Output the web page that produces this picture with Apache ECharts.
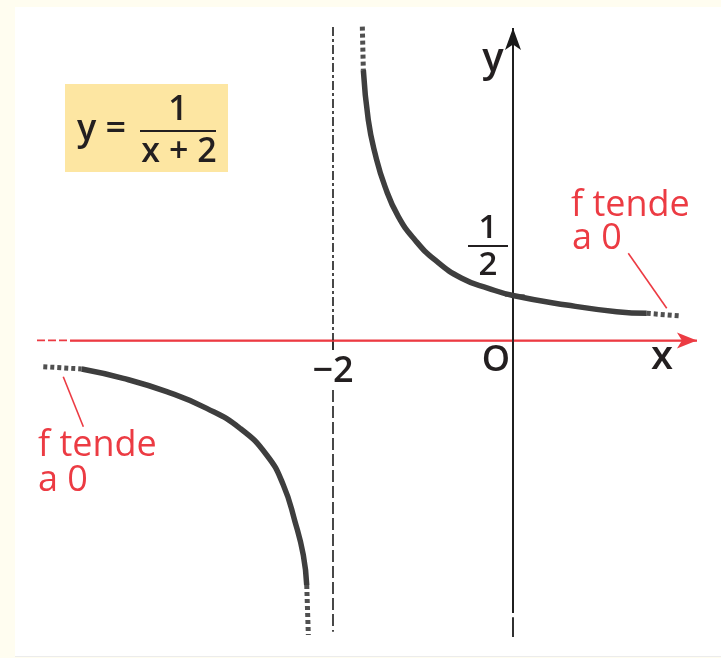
<!DOCTYPE html>
<html>
<head>
<meta charset="utf-8">
<script src="https://cdn.jsdelivr.net/npm/echarts@6/dist/echarts.min.js"></script>
<style>
html,body{margin:0;padding:0;background:#fffdf0;}
#chart{width:721px;height:658px;}
</style>
</head>
<body>
<div id="chart"></div>
<script>
// ---- data (math coordinates) ----
const upperDotTop   = [[-1.674, 3.565], [-1.663, 3.073]];
const upperBranch   = [[-1.663, 3.073], [-1.608, 2.505], [-1.533, 2.126], [-1.422, 1.747], [-1.274, 1.406],
                       [-1.089, 1.141], [-0.867, 0.914], [-0.570, 0.706], [-0.274, 0.592], [0, 0.51],
                       [0.597, 0.402], [1.152, 0.326], [1.486, 0.308]];
const upperDotRight = [[1.486, 0.308], [1.874, 0.277]];
const lowerDotLeft  = [[-5.219, -0.299], [-4.792, -0.325]];
const lowerBranch   = [[-4.792, -0.325], [-4.330, -0.431], [-3.848, -0.583], [-3.403, -0.772], [-3.033, -0.999],
                       [-2.737, -1.302], [-2.552, -1.643], [-2.422, -2.060], [-2.330, -2.439], [-2.292, -2.780]];
const lowerDotBottom = [[-2.292, -2.780], [-2.274, -3.348]];

const xAxisDashed = [[-5.289, 0], [-4.922, 0]];
const xAxisSolid  = [[-4.922, 0], [2.044, 0]];
const yAxisSolid  = [[0, -3.099], [0, 3.55]];
const yAxisTail   = [[0, -3.145], [0, -3.370]];
const asymptoteTop    = [[-2, 3.561], [-2, 0]];
const asymptoteTick   = [[-2, 0], [-2, -0.109]];
const asymptoteBottom = [[-2, -0.564], [-2, -3.311]];
const halfTick = [[-0.09, 0.51], [0.13, 0.51]];
const leaderRight = [[1.281, 0.990], [1.708, 0.365]];
const leaderLeft  = [[-4.997, -0.413], [-4.774, -0.981]];

const tickLabels = { xVar: 'x', yVar: 'y', origin: 'O', minusTwo: '\u22122', half: ['1', '2'] };
const noteText = ['f tende', 'a 0'];
const formula = { lhs: 'y =', num: '1', den: 'x + 2' };

// ---- styling ----
const RED = '#ec3b43';
const INK = '#231f20';
const CURVE = '#3e3e3e';
const FONT = '"Open Sans", "Noto Sans", sans-serif';

function seg(data, color, width, type, extra) {
  return Object.assign({
    type: 'line', data: data, symbol: 'none', silent: true, animation: false,
    lineStyle: { color: color, width: width, type: type || 'solid', cap: 'butt' }, z: 3
  }, extra || {});
}
function arrowMark(from, to, color, size) {
  return {
    silent: true, animation: false, symbol: ['none', 'arrow'], symbolSize: size,
    label: { show: false }, lineStyle: { color: color, width: 1.5, type: 'solid' },
    data: [[{ coord: from }, { coord: to }]]
  };
}

const series = [
  seg(xAxisDashed, RED, 1.6, [8, 3]),
  seg(xAxisSolid, RED, 1.6, 'solid', { markLine: arrowMark(xAxisSolid[0], xAxisSolid[1], RED, [12, 20]) }),
  seg(yAxisSolid, '#1a1a1a', 1.8, 'solid', { markLine: arrowMark(yAxisSolid[0], yAxisSolid[1], '#1a1a1a', [12, 22]) }),
  seg(yAxisTail, '#1a1a1a', 1.8),
  seg(asymptoteTop, '#1a1a1a', 1.6, [9, 3, 3, 3]),
  seg(asymptoteTick, '#1a1a1a', 1.8),
  seg(asymptoteBottom, '#1a1a1a', 1.6, [12, 4]),
  seg(halfTick, '#1a1a1a', 2),
  seg(leaderRight, RED, 1.6),
  seg(leaderLeft, RED, 1.6),
  seg(upperBranch, CURVE, 5.5, 'solid', { smooth: 0.5, z: 5 }),
  seg(lowerBranch, CURVE, 5.5, 'solid', { smooth: 0.5, z: 5 }),
  seg(upperDotTop, '#505050', 5, [4, 3], { z: 5 }),
  seg(upperDotRight, '#505050', 5, [4, 3], { z: 5 }),
  seg(lowerDotLeft, '#505050', 5, [4, 3], { z: 5 }),
  seg(lowerDotBottom, '#505050', 5, [4, 3], { z: 5 })
];

function txt(s, x, y, size, color, align, weight) {
  return { type: 'text', x: x, y: y, z: 100, silent: true,
    style: { text: s, fill: color, font: (weight || 'normal') + ' ' + size + 'px ' + FONT, align: align || 'left', verticalAlign: 'middle' } };
}

const graphic = [
  { type: 'rect', shape: { x: 15, y: 7, width: 706, height: 649 }, style: { fill: '#ffffff' }, z: -10, silent: true },
  { type: 'line', shape: { x1: 15, y1: 656.5, x2: 721, y2: 656.5 }, style: { stroke: '#ececec', lineWidth: 1 }, z: -9, silent: true },
  { type: 'rect', shape: { x: 65, y: 84, width: 163, height: 88 }, style: { fill: '#fde6a2' }, z: 50, silent: true },
  txt(formula.lhs, 77, 130, 36, INK, 'left', 600),
  txt(formula.num, 178, 110, 34, INK, 'center', 600),
  { type: 'line', shape: { x1: 140, y1: 131, x2: 216, y2: 131 }, style: { stroke: INK, lineWidth: 2.2 }, z: 100, silent: true },
  txt(formula.den, 179, 152, 34, INK, 'center', 600),
  txt(tickLabels.yVar, 493, 60, 40, INK, 'center', 600),
  txt(tickLabels.xVar, 662, 358, 40, INK, 'center', 600),
  txt(tickLabels.origin, 496, 361, 36, INK, 'center', 600),
  txt(tickLabels.minusTwo, 333, 372, 36, INK, 'center', 600),
  txt(tickLabels.half[0], 488, 229, 33, INK, 'center', 600),
  { type: 'line', shape: { x1: 468, y1: 246, x2: 508, y2: 246 }, style: { stroke: INK, lineWidth: 2.2 }, z: 100, silent: true },
  txt(tickLabels.half[1], 488, 266, 33, INK, 'center', 600),
  txt(noteText[0], 571, 206, 36, RED, 'left', 500),
  txt(noteText[1], 572, 239, 36, RED, 'left', 500),
  txt(noteText[0], 38, 446, 36, RED, 'left', 500),
  txt(noteText[1], 38, 481, 36, RED, 'left', 500)
];

const chart = echarts.init(document.getElementById('chart'), null, { renderer: 'canvas' });
chart.setOption({
  animation: false,
  backgroundColor: '#fffdf0',
  grid: { left: 0, right: 1, top: 6, bottom: 0.8, containLabel: false },
  xAxis: { type: 'value', min: -5.7, max: 2.3, show: false },
  yAxis: { type: 'value', min: -3.6, max: 3.8, show: false },
  tooltip: { show: false },
  graphic: graphic,
  series: series
});
</script>
</body>
</html>
